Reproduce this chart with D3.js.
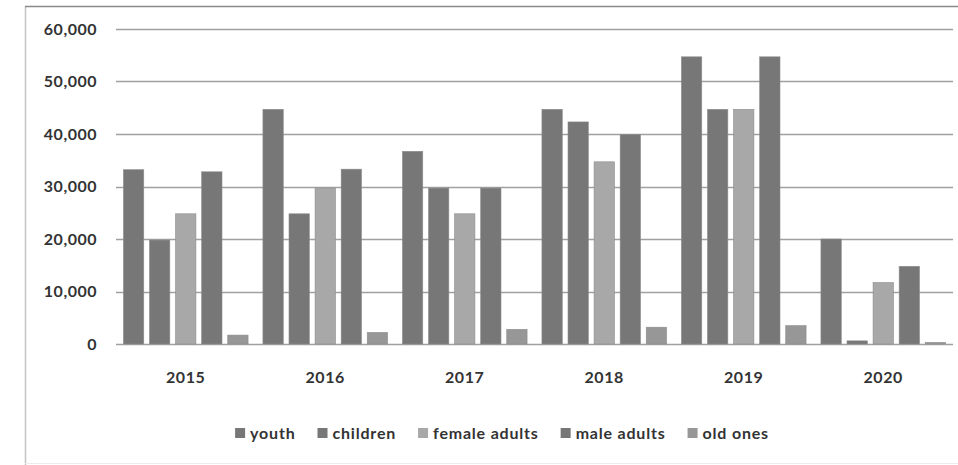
<!DOCTYPE html>
<html>
<head>
<meta charset="utf-8">
<script src="https://cdn.jsdelivr.net/npm/d3@7"></script>
<style>
  html, body { margin: 0; padding: 0; background: #fff; }
  svg { display: block; }
  text { font-family: Lato, "Open Sans", sans-serif; }
</style>
</head>
<body>
<svg id="chart" width="958" height="465"></svg>
<script>
const years = ["2015", "2016", "2017", "2018", "2019", "2020"];
const seriesNames = ["youth", "children", "female adults", "male adults", "old ones"];
const youth        = [33200, 44700, 36700, 44700, 54700, 20000];
const children     = [19800, 24800, 29700, 42300, 44700, 600];
const femaleAdults = [24800, 29700, 24800, 34700, 44700, 11700];
const maleAdults   = [32800, 33300, 29700, 39900, 54700, 14800];
const oldOnes      = [1700, 2200, 2800, 3200, 3500, 300];
const yTicks = [0, 10000, 20000, 30000, 40000, 50000, 60000];
const seriesColors = ["#777777", "#777777", "#a8a8a8", "#777777", "#979797"];

const seriesValues = [youth, children, femaleAdults, maleAdults, oldOnes];

const svg = d3.select("#chart");

// outer frame
svg.append("line").attr("x1", 25.5).attr("x2", 25.5).attr("y1", 6).attr("y2", 465)
  .attr("stroke", "#c4c4c4").attr("stroke-width", 1.5);
svg.append("line").attr("x1", 25).attr("x2", 958).attr("y1", 6.5).attr("y2", 6.5)
  .attr("stroke", "#8a8a8a").attr("stroke-width", 1.5);
svg.append("line").attr("x1", 25).attr("x2", 958).attr("y1", 463.5).attr("y2", 463.5)
  .attr("stroke", "#ececec").attr("stroke-width", 1);

const x0 = d3.scaleBand().domain(years).range([116, 953]).paddingInner(0).paddingOuter(0);
const x1 = d3.scaleBand().domain(seriesNames).range([0, x0.bandwidth()])
  .paddingInner(0.22).paddingOuter(0.285);
const y = d3.scaleLinear().domain([0, 60000]).range([344, 29]);

// y axis labels
const yAxis = d3.axisLeft(y).tickValues(yTicks).tickSize(0).tickPadding(19)
  .tickFormat(d3.format(","));
const gy = svg.append("g").attr("transform", "translate(116,0)").call(yAxis);
gy.select(".domain").remove();
gy.selectAll("text").attr("font-size", 16).attr("font-weight", "bold").attr("fill", "#333")
  .attr("font-family", "Lato, sans-serif").attr("letter-spacing", "0.5px");

// gridlines
svg.append("g").selectAll("line").data(yTicks).join("line")
  .attr("x1", 116).attr("x2", 953)
  .attr("y1", d => Math.round(y(d)) + 0.5).attr("y2", d => Math.round(y(d)) + 0.5)
  .attr("stroke", "#a0a0a0").attr("stroke-width", 1.5);

// bars
const rows = [];
years.forEach((yr, i) => {
  seriesNames.forEach((s, j) => rows.push({ year: yr, series: s, value: seriesValues[j][i], color: seriesColors[j] }));
});
svg.append("g").selectAll("rect").data(rows).join("rect")
  .attr("x", d => x0(d.year) + x1(d.series))
  .attr("width", x1.bandwidth())
  .attr("y", d => y(d.value))
  .attr("height", d => y(0) - y(d.value))
  .attr("fill", d => d.color)
  .attr("stroke", "#8c8c8c").attr("stroke-width", 0.6);

// x axis labels
const xAxis = d3.axisBottom(x0).tickSize(0).tickPadding(28);
const gx = svg.append("g").attr("transform", "translate(0,344)").call(xAxis);
gx.select(".domain").remove();
gx.selectAll("text").attr("font-size", 16).attr("font-weight", "bold").attr("fill", "#333")
  .attr("font-family", "Lato, sans-serif").attr("letter-spacing", "0.6px");

// legend
const legend = svg.append("g");
const items = [];
seriesNames.forEach((s, j) => {
  const g = legend.append("g");
  g.append("rect").attr("x", 0).attr("y", -5).attr("width", 10).attr("height", 10)
    .attr("fill", seriesColors[j]);
  const t = g.append("text").attr("x", 15).attr("y", 0).attr("dy", "0.35em")
    .attr("font-size", 16).attr("font-weight", "bold").attr("fill", "#333")
    .attr("letter-spacing", "0.8px").text(s);
  const w = 15 + t.node().getComputedTextLength();
  items.push({ g, w });
});
const gap = 22;
const total = d3.sum(items, d => d.w) + gap * (items.length - 1);
let cx = 502 - total / 2;
items.forEach(it => {
  it.g.attr("transform", `translate(${cx},433)`);
  cx += it.w + gap;
});
</script>
</body>
</html>
